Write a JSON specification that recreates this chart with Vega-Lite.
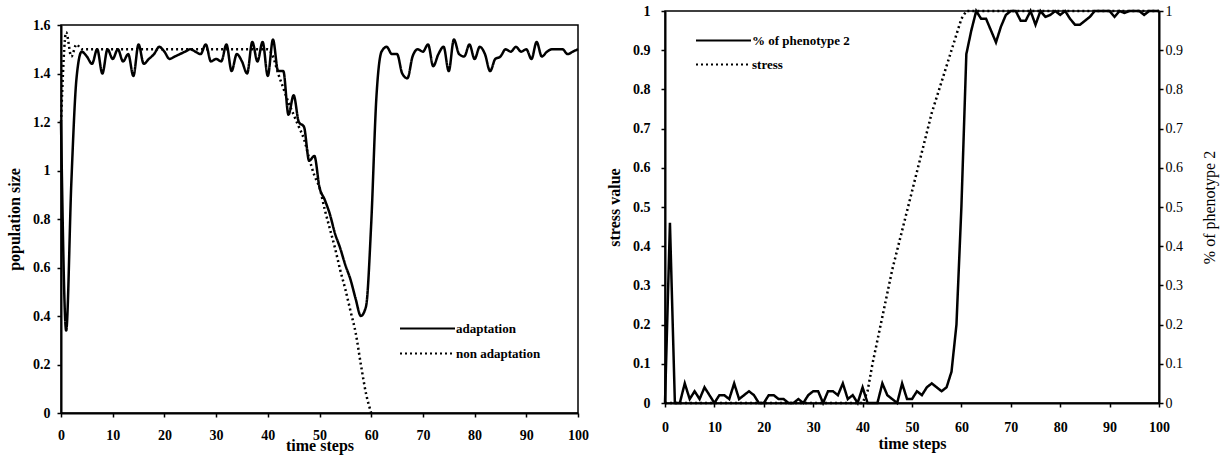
{
 "$schema": "https://vega.github.io/schema/vega-lite/v6.json",
 "background": "white",
 "padding": {"left": 5, "top": 3, "right": 2, "bottom": 2},
 "config": {
  "font": "Liberation Serif",
  "view": {"stroke": "black", "strokeWidth": 1.5},
  "axis": {"domainColor": "black", "domainWidth": 2, "tickColor": "black", "tickWidth": 1.5, "tickSize": 4, "grid": false,
   "labelFont": "Liberation Serif", "labelFontSize": 14, "labelFontWeight": "bold", "labelColor": "black", "labelFlush": false, "labelOverlap": false,
   "titleFont": "Liberation Serif", "titleFontSize": 16, "titleFontWeight": "bold", "titleColor": "black"},
  "legend": {"title": null, "orient": "none", "symbolType": "M-9,0H1", "symbolSize": 121, "symbolStrokeWidth": 2, "symbolStrokeColor": "black",
   "labelFont": "Liberation Serif", "labelFontSize": 13, "labelFontWeight": "bold", "labelColor": "black", "labelOffset": 0, "rowPadding": 10}
 },
 "datasets": {
  "pop": [
   {"t":0,"v":1.2,"s":"adaptation"},{"t":1,"v":0.34,"s":"adaptation"},{"t":2,"v":0.95,"s":"adaptation"},{"t":3,"v":1.38,"s":"adaptation"},{"t":4,"v":1.49,"s":"adaptation"},{"t":5,"v":1.47,"s":"adaptation"},{"t":6,"v":1.44,"s":"adaptation"},{"t":7,"v":1.5,"s":"adaptation"},{"t":8,"v":1.4,"s":"adaptation"},{"t":9,"v":1.5,"s":"adaptation"},
   {"t":10,"v":1.46,"s":"adaptation"},{"t":11,"v":1.5,"s":"adaptation"},{"t":12,"v":1.45,"s":"adaptation"},{"t":13,"v":1.48,"s":"adaptation"},{"t":14,"v":1.39,"s":"adaptation"},{"t":15,"v":1.52,"s":"adaptation"},{"t":16,"v":1.44,"s":"adaptation"},{"t":17,"v":1.46,"s":"adaptation"},{"t":18,"v":1.48,"s":"adaptation"},{"t":19,"v":1.51,"s":"adaptation"},
   {"t":20,"v":1.49,"s":"adaptation"},{"t":21,"v":1.46,"s":"adaptation"},{"t":22,"v":1.47,"s":"adaptation"},{"t":23,"v":1.48,"s":"adaptation"},{"t":24,"v":1.49,"s":"adaptation"},{"t":25,"v":1.5,"s":"adaptation"},{"t":26,"v":1.49,"s":"adaptation"},{"t":27,"v":1.48,"s":"adaptation"},{"t":28,"v":1.52,"s":"adaptation"},{"t":29,"v":1.45,"s":"adaptation"},
   {"t":30,"v":1.46,"s":"adaptation"},{"t":31,"v":1.45,"s":"adaptation"},{"t":32,"v":1.52,"s":"adaptation"},{"t":33,"v":1.41,"s":"adaptation"},{"t":34,"v":1.48,"s":"adaptation"},{"t":35,"v":1.45,"s":"adaptation"},{"t":36,"v":1.4,"s":"adaptation"},{"t":37,"v":1.53,"s":"adaptation"},{"t":38,"v":1.45,"s":"adaptation"},{"t":39,"v":1.53,"s":"adaptation"},
   {"t":40,"v":1.39,"s":"adaptation"},{"t":41,"v":1.54,"s":"adaptation"},{"t":42,"v":1.41,"s":"adaptation"},{"t":43,"v":1.41,"s":"adaptation"},{"t":44,"v":1.23,"s":"adaptation"},{"t":45,"v":1.31,"s":"adaptation"},{"t":46,"v":1.2,"s":"adaptation"},{"t":47,"v":1.18,"s":"adaptation"},{"t":48,"v":1.04,"s":"adaptation"},{"t":49,"v":1.06,"s":"adaptation"},
   {"t":50,"v":0.93,"s":"adaptation"},{"t":51,"v":0.88,"s":"adaptation"},{"t":52,"v":0.82,"s":"adaptation"},{"t":53,"v":0.74,"s":"adaptation"},{"t":54,"v":0.68,"s":"adaptation"},{"t":55,"v":0.61,"s":"adaptation"},{"t":56,"v":0.55,"s":"adaptation"},{"t":57,"v":0.47,"s":"adaptation"},{"t":58,"v":0.4,"s":"adaptation"},{"t":59,"v":0.44,"s":"adaptation"},
   {"t":60,"v":0.78,"s":"adaptation"},{"t":61,"v":1.3,"s":"adaptation"},{"t":62,"v":1.49,"s":"adaptation"},{"t":63,"v":1.51,"s":"adaptation"},{"t":64,"v":1.48,"s":"adaptation"},{"t":65,"v":1.48,"s":"adaptation"},{"t":66,"v":1.4,"s":"adaptation"},{"t":67,"v":1.38,"s":"adaptation"},{"t":68,"v":1.47,"s":"adaptation"},{"t":69,"v":1.5,"s":"adaptation"},
   {"t":70,"v":1.49,"s":"adaptation"},{"t":71,"v":1.52,"s":"adaptation"},{"t":72,"v":1.43,"s":"adaptation"},{"t":73,"v":1.48,"s":"adaptation"},{"t":74,"v":1.51,"s":"adaptation"},{"t":75,"v":1.41,"s":"adaptation"},{"t":76,"v":1.54,"s":"adaptation"},{"t":77,"v":1.48,"s":"adaptation"},{"t":78,"v":1.47,"s":"adaptation"},{"t":79,"v":1.52,"s":"adaptation"},
   {"t":80,"v":1.46,"s":"adaptation"},{"t":81,"v":1.51,"s":"adaptation"},{"t":82,"v":1.48,"s":"adaptation"},{"t":83,"v":1.41,"s":"adaptation"},{"t":84,"v":1.46,"s":"adaptation"},{"t":85,"v":1.47,"s":"adaptation"},{"t":86,"v":1.5,"s":"adaptation"},{"t":87,"v":1.49,"s":"adaptation"},{"t":88,"v":1.51,"s":"adaptation"},{"t":89,"v":1.49,"s":"adaptation"},
   {"t":90,"v":1.5,"s":"adaptation"},{"t":91,"v":1.46,"s":"adaptation"},{"t":92,"v":1.53,"s":"adaptation"},{"t":93,"v":1.47,"s":"adaptation"},{"t":94,"v":1.49,"s":"adaptation"},{"t":95,"v":1.5,"s":"adaptation"},{"t":96,"v":1.5,"s":"adaptation"},{"t":97,"v":1.5,"s":"adaptation"},{"t":98,"v":1.48,"s":"adaptation"},{"t":99,"v":1.49,"s":"adaptation"},{"t":100,"v":1.5,"s":"adaptation"},
   {"t":0,"v":1.2,"s":"non adaptation"},{"t":1,"v":1.57,"s":"non adaptation"},{"t":2,"v":1.47,"s":"non adaptation"},{"t":3,"v":1.52,"s":"non adaptation"},{"t":4,"v":1.5,"s":"non adaptation"},{"t":5,"v":1.5,"s":"non adaptation"},{"t":6,"v":1.5,"s":"non adaptation"},{"t":7,"v":1.5,"s":"non adaptation"},{"t":8,"v":1.5,"s":"non adaptation"},{"t":9,"v":1.5,"s":"non adaptation"},
   {"t":10,"v":1.5,"s":"non adaptation"},{"t":11,"v":1.5,"s":"non adaptation"},{"t":12,"v":1.5,"s":"non adaptation"},{"t":13,"v":1.5,"s":"non adaptation"},{"t":14,"v":1.5,"s":"non adaptation"},{"t":15,"v":1.5,"s":"non adaptation"},{"t":16,"v":1.5,"s":"non adaptation"},{"t":17,"v":1.5,"s":"non adaptation"},{"t":18,"v":1.5,"s":"non adaptation"},{"t":19,"v":1.5,"s":"non adaptation"},
   {"t":20,"v":1.5,"s":"non adaptation"},{"t":21,"v":1.5,"s":"non adaptation"},{"t":22,"v":1.5,"s":"non adaptation"},{"t":23,"v":1.5,"s":"non adaptation"},{"t":24,"v":1.5,"s":"non adaptation"},{"t":25,"v":1.5,"s":"non adaptation"},{"t":26,"v":1.5,"s":"non adaptation"},{"t":27,"v":1.5,"s":"non adaptation"},{"t":28,"v":1.5,"s":"non adaptation"},{"t":29,"v":1.5,"s":"non adaptation"},
   {"t":30,"v":1.5,"s":"non adaptation"},{"t":31,"v":1.5,"s":"non adaptation"},{"t":32,"v":1.5,"s":"non adaptation"},{"t":33,"v":1.5,"s":"non adaptation"},{"t":34,"v":1.5,"s":"non adaptation"},{"t":35,"v":1.5,"s":"non adaptation"},{"t":36,"v":1.5,"s":"non adaptation"},{"t":37,"v":1.5,"s":"non adaptation"},{"t":38,"v":1.5,"s":"non adaptation"},{"t":39,"v":1.5,"s":"non adaptation"},
   {"t":40,"v":1.5,"s":"non adaptation"},{"t":41,"v":1.47,"s":"non adaptation"},{"t":42,"v":1.4,"s":"non adaptation"},{"t":43,"v":1.34,"s":"non adaptation"},{"t":44,"v":1.28,"s":"non adaptation"},{"t":45,"v":1.23,"s":"non adaptation"},{"t":46,"v":1.18,"s":"non adaptation"},{"t":47,"v":1.13,"s":"non adaptation"},{"t":48,"v":1.05,"s":"non adaptation"},{"t":49,"v":0.98,"s":"non adaptation"},
   {"t":50,"v":0.93,"s":"non adaptation"},{"t":51,"v":0.84,"s":"non adaptation"},{"t":52,"v":0.76,"s":"non adaptation"},{"t":53,"v":0.68,"s":"non adaptation"},{"t":54,"v":0.59,"s":"non adaptation"},{"t":55,"v":0.51,"s":"non adaptation"},{"t":56,"v":0.42,"s":"non adaptation"},{"t":57,"v":0.33,"s":"non adaptation"},{"t":58,"v":0.2,"s":"non adaptation"},{"t":59,"v":0.08,"s":"non adaptation"},{"t":60,"v":0,"s":"non adaptation"}
  ],
  "right": [
   {"t":0,"v":0,"s":"stress"},{"t":40,"v":0,"s":"stress"},{"t":41,"v":0.03,"s":"stress"},{"t":42,"v":0.1,"s":"stress"},{"t":43,"v":0.16,"s":"stress"},{"t":44,"v":0.22,"s":"stress"},{"t":45,"v":0.28,"s":"stress"},{"t":46,"v":0.34,"s":"stress"},{"t":47,"v":0.39,"s":"stress"},{"t":48,"v":0.44,"s":"stress"},{"t":49,"v":0.49,"s":"stress"},
   {"t":50,"v":0.54,"s":"stress"},{"t":51,"v":0.59,"s":"stress"},{"t":52,"v":0.64,"s":"stress"},{"t":53,"v":0.69,"s":"stress"},{"t":54,"v":0.74,"s":"stress"},{"t":55,"v":0.78,"s":"stress"},{"t":56,"v":0.82,"s":"stress"},{"t":57,"v":0.86,"s":"stress"},{"t":58,"v":0.9,"s":"stress"},{"t":59,"v":0.94,"s":"stress"},{"t":60,"v":0.98,"s":"stress"},{"t":61,"v":1,"s":"stress"},{"t":100,"v":1,"s":"stress"},
   {"t":0,"v":0,"s":"% of phenotype 2"},{"t":1,"v":0.46,"s":"% of phenotype 2"},{"t":2,"v":0,"s":"% of phenotype 2"},{"t":3,"v":0,"s":"% of phenotype 2"},{"t":4,"v":0.05,"s":"% of phenotype 2"},{"t":5,"v":0.01,"s":"% of phenotype 2"},{"t":6,"v":0.03,"s":"% of phenotype 2"},{"t":7,"v":0.01,"s":"% of phenotype 2"},{"t":8,"v":0.04,"s":"% of phenotype 2"},{"t":9,"v":0.02,"s":"% of phenotype 2"},
   {"t":10,"v":0,"s":"% of phenotype 2"},{"t":11,"v":0.02,"s":"% of phenotype 2"},{"t":12,"v":0.02,"s":"% of phenotype 2"},{"t":13,"v":0.01,"s":"% of phenotype 2"},{"t":14,"v":0.05,"s":"% of phenotype 2"},{"t":15,"v":0.01,"s":"% of phenotype 2"},{"t":16,"v":0.02,"s":"% of phenotype 2"},{"t":17,"v":0.03,"s":"% of phenotype 2"},{"t":18,"v":0.02,"s":"% of phenotype 2"},{"t":19,"v":0,"s":"% of phenotype 2"},
   {"t":20,"v":0,"s":"% of phenotype 2"},{"t":21,"v":0.02,"s":"% of phenotype 2"},{"t":22,"v":0.02,"s":"% of phenotype 2"},{"t":23,"v":0.01,"s":"% of phenotype 2"},{"t":24,"v":0.01,"s":"% of phenotype 2"},{"t":25,"v":0,"s":"% of phenotype 2"},{"t":26,"v":0,"s":"% of phenotype 2"},{"t":27,"v":0.01,"s":"% of phenotype 2"},{"t":28,"v":0,"s":"% of phenotype 2"},{"t":29,"v":0.02,"s":"% of phenotype 2"},
   {"t":30,"v":0.03,"s":"% of phenotype 2"},{"t":31,"v":0.03,"s":"% of phenotype 2"},{"t":32,"v":0,"s":"% of phenotype 2"},{"t":33,"v":0.03,"s":"% of phenotype 2"},{"t":34,"v":0.03,"s":"% of phenotype 2"},{"t":35,"v":0.02,"s":"% of phenotype 2"},{"t":36,"v":0.05,"s":"% of phenotype 2"},{"t":37,"v":0.01,"s":"% of phenotype 2"},{"t":38,"v":0.02,"s":"% of phenotype 2"},{"t":39,"v":0,"s":"% of phenotype 2"},
   {"t":40,"v":0.04,"s":"% of phenotype 2"},{"t":41,"v":0,"s":"% of phenotype 2"},{"t":42,"v":0,"s":"% of phenotype 2"},{"t":43,"v":0,"s":"% of phenotype 2"},{"t":44,"v":0.05,"s":"% of phenotype 2"},{"t":45,"v":0.02,"s":"% of phenotype 2"},{"t":46,"v":0.01,"s":"% of phenotype 2"},{"t":47,"v":0,"s":"% of phenotype 2"},{"t":48,"v":0.05,"s":"% of phenotype 2"},{"t":49,"v":0.01,"s":"% of phenotype 2"},
   {"t":50,"v":0.01,"s":"% of phenotype 2"},{"t":51,"v":0.03,"s":"% of phenotype 2"},{"t":52,"v":0.02,"s":"% of phenotype 2"},{"t":53,"v":0.04,"s":"% of phenotype 2"},{"t":54,"v":0.05,"s":"% of phenotype 2"},{"t":55,"v":0.04,"s":"% of phenotype 2"},{"t":56,"v":0.03,"s":"% of phenotype 2"},{"t":57,"v":0.04,"s":"% of phenotype 2"},{"t":58,"v":0.08,"s":"% of phenotype 2"},{"t":59,"v":0.2,"s":"% of phenotype 2"},
   {"t":60,"v":0.5,"s":"% of phenotype 2"},{"t":61,"v":0.89,"s":"% of phenotype 2"},{"t":62,"v":0.95,"s":"% of phenotype 2"},{"t":63,"v":1,"s":"% of phenotype 2"},{"t":64,"v":0.98,"s":"% of phenotype 2"},{"t":65,"v":0.98,"s":"% of phenotype 2"},{"t":66,"v":0.95,"s":"% of phenotype 2"},{"t":67,"v":0.92,"s":"% of phenotype 2"},{"t":68,"v":0.96,"s":"% of phenotype 2"},{"t":69,"v":0.99,"s":"% of phenotype 2"},
   {"t":70,"v":1,"s":"% of phenotype 2"},{"t":71,"v":1,"s":"% of phenotype 2"},{"t":72,"v":0.975,"s":"% of phenotype 2"},{"t":73,"v":0.975,"s":"% of phenotype 2"},{"t":74,"v":1,"s":"% of phenotype 2"},{"t":75,"v":0.965,"s":"% of phenotype 2"},{"t":76,"v":1,"s":"% of phenotype 2"},{"t":77,"v":0.985,"s":"% of phenotype 2"},{"t":78,"v":0.99,"s":"% of phenotype 2"},{"t":79,"v":1,"s":"% of phenotype 2"},
   {"t":80,"v":0.99,"s":"% of phenotype 2"},{"t":81,"v":1,"s":"% of phenotype 2"},{"t":82,"v":0.98,"s":"% of phenotype 2"},{"t":83,"v":0.965,"s":"% of phenotype 2"},{"t":84,"v":0.965,"s":"% of phenotype 2"},{"t":85,"v":0.975,"s":"% of phenotype 2"},{"t":86,"v":0.985,"s":"% of phenotype 2"},{"t":87,"v":1,"s":"% of phenotype 2"},{"t":88,"v":1,"s":"% of phenotype 2"},{"t":89,"v":1,"s":"% of phenotype 2"},
   {"t":90,"v":1,"s":"% of phenotype 2"},{"t":91,"v":0.985,"s":"% of phenotype 2"},{"t":92,"v":1,"s":"% of phenotype 2"},{"t":93,"v":0.995,"s":"% of phenotype 2"},{"t":94,"v":1,"s":"% of phenotype 2"},{"t":95,"v":1,"s":"% of phenotype 2"},{"t":96,"v":1,"s":"% of phenotype 2"},{"t":97,"v":0.99,"s":"% of phenotype 2"},{"t":98,"v":1,"s":"% of phenotype 2"},{"t":99,"v":1,"s":"% of phenotype 2"},{"t":100,"v":1,"s":"% of phenotype 2"}
  ]
 },
 "spacing": 15,
 "resolve": {"scale": {"strokeDash": "independent"}, "legend": {"strokeDash": "independent"}},
 "hconcat": [
  {
   "spacing": 0,
   "resolve": {"scale": {"strokeDash": "independent"}, "legend": {"strokeDash": "independent"}},
   "vconcat": [
    {
     "width": 517, "height": 6,
     "view": {"stroke": null},
     "data": {"values": []},
     "mark": {"type": "point", "opacity": 0},
     "encoding": {}
    },
    {
     "width": 517, "height": 388,
     "data": {"name": "pop"},
     "mark": {"type": "line", "interpolate": "monotone", "strokeWidth": 2.5, "color": "black"},
     "encoding": {
      "x": {"field": "t", "type": "quantitative", "scale": {"domain": [0, 100], "nice": false},
       "axis": {"values": [0,10,20,30,40,50,60,70,80,90,100], "title": "time steps", "labelPadding": 11, "titleY": 37, "titleBaseline": "alphabetic"}},
      "y": {"field": "v", "type": "quantitative", "scale": {"domain": [0, 1.6], "nice": false},
       "axis": {"values": [0,0.2,0.4,0.6,0.8,1,1.2,1.4,1.6], "format": "~g", "title": "population size", "labelPadding": 7, "titlePadding": 10}},
      "strokeDash": {"field": "s", "type": "nominal", "scale": {"domain": ["adaptation", "non adaptation"], "range": [[1, 0], [2, 3]]},
       "legend": {"legendX": 382, "legendY": 297, "rowPadding": 11}}
     }
    }
   ]
  },
  {
   "width": 494, "height": 392,
   "data": {"name": "right"},
   "layer": [
    {
     "transform": [{"filter": "datum.s == 'stress'"}],
     "mark": {"type": "line", "strokeWidth": 2.5, "color": "black"},
     "encoding": {
      "x": {"field": "t", "type": "quantitative", "scale": {"domain": [0, 100], "nice": false},
       "axis": {"values": [0,10,20,30,40,50,60,70,80,90,100], "title": "time steps", "labelPadding": 13, "titleY": 45, "titleBaseline": "alphabetic"}},
      "y": {"field": "v", "type": "quantitative", "scale": {"domain": [0, 1], "nice": false},
       "axis": {"values": [0,0.1,0.2,0.3,0.4,0.5,0.6,0.7,0.8,0.9,1], "format": "~g", "title": "stress value", "labelPadding": 11, "titlePadding": 10}},
      "strokeDash": {"field": "s", "type": "nominal", "scale": {"domain": ["% of phenotype 2", "stress"], "range": [[1, 0], [2, 3]]},
       "legend": {"legendX": 74, "legendY": 23}}
     }
    },
    {
     "transform": [{"filter": "datum.s == '% of phenotype 2'"}],
     "mark": {"type": "line", "strokeWidth": 2.5, "color": "black"},
     "encoding": {
      "x": {"field": "t", "type": "quantitative", "scale": {"domain": [0, 100], "nice": false}},
      "y": {"field": "v", "type": "quantitative", "scale": {"domain": [0, 1], "nice": false},
       "axis": {"orient": "right", "values": [0,0.1,0.2,0.3,0.4,0.5,0.6,0.7,0.8,0.9,1], "format": "~g", "title": "% of phenotype 2", "titleAngle": 270, "labelFontWeight": "normal", "titleFontWeight": "normal", "labelPadding": 2, "titlePadding": 35}},
      "strokeDash": {"field": "s", "type": "nominal", "scale": {"domain": ["% of phenotype 2", "stress"], "range": [[1, 0], [2, 3]]}}
     }
    }
   ],
   "resolve": {"scale": {"y": "independent"}}
  }
 ]
}
